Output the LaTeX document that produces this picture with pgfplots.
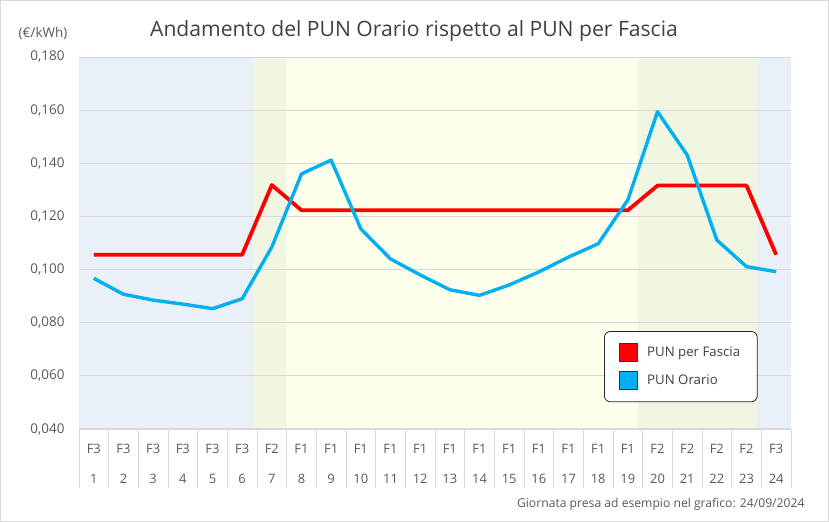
\documentclass[border=0pt]{standalone}
\usepackage{pgfplots}
\pgfplotsset{compat=1.18}
\usepackage{fontspec}
\setmainfont{Open Sans}
\definecolor{txt}{RGB}{89,89,89}
\definecolor{ttl}{RGB}{64,64,64}
\definecolor{bblue}{RGB}{233,240,248}
\definecolor{bgreen}{RGB}{241,246,227}
\definecolor{byellow}{RGB}{254,254,237}
\definecolor{pred}{RGB}{255,0,0}
\definecolor{pblue}{RGB}{0,176,240}
\definecolor{gridc}{RGB}{217,217,217}
\begin{document}
\begin{tikzpicture}[x=1bp,y=1bp]
\draw[gridc, line width=1bp] (0.5,0.5) rectangle (828.5,521.5);
\node[ttl, font=\fontsize{21.2}{26}\selectfont] at (414,491) {Andamento del PUN Orario rispetto al PUN per Fascia};
\node[txt, font=\fontsize{13.5}{16}\selectfont] at (43,489) {(€/kWh)};
\node[txt, font=\fontsize{12.2}{15}\selectfont, anchor=east] at (808,18) {Giornata presa ad esempio nel grafico: 24/09/2024};
\begin{axis}[
  at={(79bp,93bp)}, anchor=south west,
  scale only axis, width=712bp, height=372bp,
  xmin=0.5, xmax=24.5, ymin=0.04, ymax=0.18,
  set layers,
  axis lines*=left,
  x axis line style={gridc, line width=1bp},
  y axis line style={draw=none},
  ytick={0.04,0.06,0.08,0.10,0.12,0.14,0.16,0.18},
  ymajorgrids, grid style={gridc, line width=0.8bp},
  major tick length=0pt,
  yticklabel style={txt, font=\fontsize{13.5}{16}\selectfont, xshift=-11bp,
    /pgf/number format/.cd, fixed, fixed zerofill, precision=3, use comma, assume math mode=true},
  xtick={1,...,24},
  xticklabels={{F3\\1},{F3\\2},{F3\\3},{F3\\4},{F3\\5},{F3\\6},{F2\\7},{F1\\8},{F1\\9},{F1\\10},{F1\\11},{F1\\12},{F1\\13},{F1\\14},{F1\\15},{F1\\16},{F1\\17},{F1\\18},{F1\\19},{F2\\20},{F2\\21},{F2\\22},{F2\\23},{F3\\24}},
  xticklabel style={txt, align=center, font=\fontsize{13}{30}\selectfont, yshift=-12bp},
  extra x ticks={0.5,1.5,2.5,3.5,4.5,5.5,6.5,7.5,8.5,9.5,10.5,11.5,12.5,13.5,14.5,15.5,16.5,17.5,18.5,19.5,20.5,21.5,22.5,23.5,24.5},
  extra x tick labels={},
  extra x tick style={major tick length=59bp, tick align=outside, xmajorgrids=false, tick style={gridc, line width=1bp}},
  legend style={at={(0.7374,0.2634)}, anchor=north west, draw=black!85, rounded corners=6bp, line width=0.8bp, fill=white,
    font=\fontsize{13.3}{16}\selectfont, text=ttl, inner xsep=15bp, inner ysep=12bp, row sep=9bp,
    nodes={inner sep=2bp},
    /tikz/every odd column/.append style={column sep=7bp}},
  legend cell align=left,
]
\addplot[draw=none, fill=bblue, on layer=axis background, forget plot] coordinates {(0.5,0.04) (6.37,0.04) (6.37,0.18) (0.5,0.18)} --cycle;
\addplot[draw=none, fill=bgreen, on layer=axis background, forget plot] coordinates {(6.37,0.04) (7.48,0.04) (7.48,0.18) (6.37,0.18)} --cycle;
\addplot[draw=none, fill=byellow, on layer=axis background, forget plot] coordinates {(7.48,0.04) (19.34,0.04) (19.34,0.18) (7.48,0.18)} --cycle;
\addplot[draw=none, fill=bgreen, on layer=axis background, forget plot] coordinates {(19.34,0.04) (23.35,0.04) (23.35,0.18) (19.34,0.18)} --cycle;
\addplot[draw=none, fill=bblue, on layer=axis background, forget plot] coordinates {(23.35,0.04) (24.5,0.04) (24.5,0.18) (23.35,0.18)} --cycle;
\addplot[pred, line width=3.8bp, line join=round,
  legend image code/.code={\draw[sharp corners, fill=pred, draw=black!80, line width=0.7bp] (0bp,-9bp) rectangle (18bp,9bp);}]
  coordinates {(1,0.1056) (2,0.1056) (3,0.1056) (4,0.1056) (5,0.1056) (6,0.1056) (7,0.1318)
  (8,0.1223) (9,0.1223) (10,0.1223) (11,0.1223) (12,0.1223) (13,0.1223) (14,0.1223) (15,0.1223) (16,0.1223) (17,0.1223) (18,0.1223) (19,0.1223)
  (20,0.1316) (21,0.1316) (22,0.1316) (23,0.1316) (24,0.1056)};
\addlegendentry{PUN per Fascia}
\addplot[pblue, line width=3.4bp, line join=round,
  legend image code/.code={\draw[sharp corners, fill=pblue, draw=black!80, line width=0.7bp] (0bp,-9bp) rectangle (18bp,9bp);}]
  coordinates {(1,0.0967) (2,0.0907) (3,0.0885) (4,0.0870) (5,0.0853) (6,0.0890) (7,0.1085) (8,0.1360) (9,0.1412)
  (10,0.1153) (11,0.1040) (12,0.0980) (13,0.0924) (14,0.0903) (15,0.0942) (16,0.0991) (17,0.1047) (18,0.1097) (19,0.1262)
  (20,0.1594) (21,0.1431) (22,0.1111) (23,0.1011) (24,0.0992)};
\addlegendentry{PUN Orario}
\end{axis}
\end{tikzpicture}
\end{document}
